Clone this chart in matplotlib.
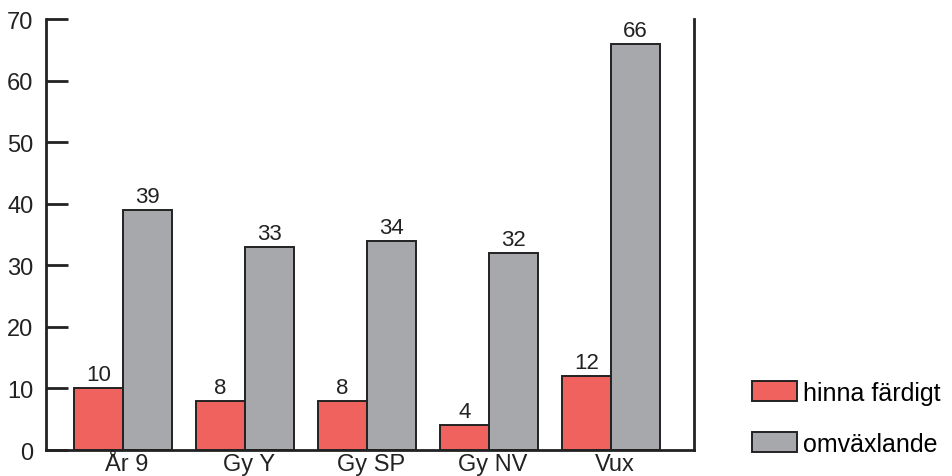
import numpy as np
import matplotlib
matplotlib.use("Agg")
import matplotlib.pyplot as plt

plt.rcParams['font.family'] = ['Liberation Sans', 'DejaVu Sans']

categories = ['År 9', 'Gy Y', 'Gy SP', 'Gy NV', 'Vux']
hinna = [10, 8, 8, 4, 12]
omvax = [39, 33, 34, 32, 66]
labels = ['hinna färdigt', 'omväxlande']

red = '#F0625D'
gray = '#A7A8AC'

fig = plt.figure(figsize=(9.52, 4.77), dpi=100)
ax = fig.add_axes([0.0483, 0.0545, 0.6807, 0.9035])

x = np.arange(len(categories))
w = 0.405
b1 = ax.bar(x - w / 2, hinna, w, color=red, edgecolor='#222222', linewidth=1.4, label=labels[0])
b2 = ax.bar(x + w / 2, omvax, w, color=gray, edgecolor='#222222', linewidth=1.4, label=labels[1])

for bars, vals in ((b1, hinna), (b2, omvax)):
    for r, v in zip(bars, vals):
        ax.text(r.get_x() + r.get_width() / 2, v + 0.5, str(v), ha='center', va='bottom',
                fontsize=16, color='#222222')

ax.set_xlim(-0.631, 4.68)
ax.set_ylim(0, 70)
ax.set_yticks(range(0, 71, 10))
ax.set_xticks(x + 0.03)
ax.set_xticklabels(categories)
ax.tick_params(axis='y', direction='in', length=16, width=2, labelsize=17, pad=9, colors='#222222')
ax.tick_params(axis='x', length=0, labelsize=17, pad=2, colors='#222222')

ax.spines['top'].set_visible(False)
for s in ('left', 'bottom', 'right'):
    ax.spines[s].set_linewidth(2)
    ax.spines[s].set_color('#222222')

leg = fig.legend(handles=[b1, b2], labels=labels, loc='upper left', bbox_to_anchor=(0.79, 0.2),
                 frameon=False, fontsize=18, handlelength=1.8, handleheight=0.85,
                 labelspacing=1.1, handletextpad=0.25, borderaxespad=0, borderpad=0)

fig.savefig('out.png', dpi=100)
